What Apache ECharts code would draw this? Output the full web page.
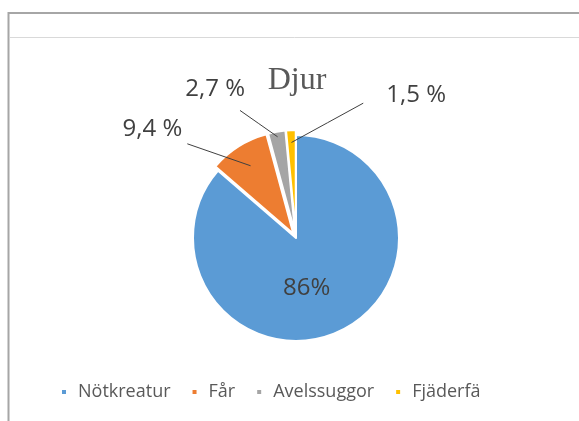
<!DOCTYPE html>
<html>
<head>
<meta charset="utf-8">
<script src="https://cdn.jsdelivr.net/npm/echarts@6/dist/echarts.min.js"></script>
<style>
  html, body { margin: 0; padding: 0; background: #fff; }
  #chart { width: 579px; height: 421px; }
</style>
</head>
<body>
<div id="chart"></div>
<script>
// Djurslag, andel i procent
const categories = ['Nötkreatur', 'Får', 'Avelssuggor', 'Fjäderfä'];
const shares = [86, 9.4, 2.7, 1.5];
const shareLabels = ['86%', '9,4 %', '2,7 %', '1,5 %'];
const sliceColors = ['#5b9bd5', '#ed7d31', '#a5a5a5', '#ffc000'];

// pie geometry
const pieCenter = [296, 238];
const pieRadius = 103;

// leader line settings per slice: radial length, horizontal length,
// how deep the line reaches into the slice (fraction of radius),
// and where it meets the label box
const lineLength = [0, 21, 43, 35];
const lineLength2 = [0, 40, 19, -102];
const lineDepth = [0, 0.78, 0.95, 0.88];
const lineLabelEnd = [null, 'rightBottom', 'rightBottomInner', 'leftSide'];

const chart = echarts.init(document.getElementById('chart'), null, { renderer: 'canvas' });

const data = categories.map((name, i) => ({
  name: name,
  value: shares[i],
  selected: i > 0,
  itemStyle: { color: sliceColors[i] },
  label: i === 0
    ? { position: 'inner', offset: [-12, 1] }
    : { position: 'outside' },
  labelLine: { show: i > 0, showAbove: true, length: lineLength[i], length2: lineLength2[i] }
}));

function leaderLine(params) {
  const i = params.dataIndex;
  if (i === 0) return {};
  const edge = params.labelLinePoints[0];
  const k = lineDepth[i];
  const inner = [
    pieCenter[0] + (edge[0] - pieCenter[0]) * k,
    pieCenter[1] + (edge[1] - pieCenter[1]) * k
  ];
  const r = params.labelRect;
  let outer;
  let align;
  if (lineLabelEnd[i] === 'rightBottom') {
    outer = [r.x + r.width + 5, r.y + r.height + 3];
  } else if (lineLabelEnd[i] === 'rightBottomInner') {
    outer = [r.x + r.width - 5, r.y + r.height + 9];
  } else {
    // label sits to the right of its anchor
    align = 'left';
    outer = [r.x + r.width - 23, r.y + r.height / 2 + 8];
  }
  const mid = [(inner[0] + outer[0]) / 2, (inner[1] + outer[1]) / 2];
  const out = { labelLinePoints: [outer, mid, inner] };
  if (align) out.align = align;
  return out;
}

chart.setOption({
  animation: false,
  backgroundColor: '#ffffff',
  title: {
    text: 'Djur',
    left: 292,
    top: 60,
    textAlign: 'center',
    textStyle: {
      fontFamily: 'Liberation Serif',
      fontWeight: 'normal',
      fontSize: 32,
      color: '#595959'
    }
  },
  legend: {
    left: 60,
    top: 383,
    padding: 0,
    itemWidth: 6,
    itemHeight: 6,
    itemGap: 20,
    icon: 'rect',
    textStyle: { fontFamily: 'Open Sans', fontSize: 18, color: '#595959', padding: [0, 0, 0, 6] },
    data: categories
  },
  graphic: [
    { type: 'line', shape: { x1: 8, y1: 13, x2: 579, y2: 13 }, style: { stroke: '#a6a6a6', lineWidth: 2 } },
    { type: 'line', shape: { x1: 8.5, y1: 12, x2: 8.5, y2: 421 }, style: { stroke: '#a6a6a6', lineWidth: 2 } },
    { type: 'line', shape: { x1: 10, y1: 37.5, x2: 579, y2: 37.5 }, style: { stroke: '#d9d9d9', lineWidth: 1 } }
  ],
  series: [{
    type: 'pie',
    center: pieCenter,
    radius: [0, pieRadius],
    startAngle: 90,
    clockwise: true,
    selectedMode: 'multiple',
    selectedOffset: 5,
    avoidLabelOverlap: false,
    itemStyle: { borderColor: '#ffffff', borderWidth: 2 },
    emphasis: { disabled: true },
    label: {
      fontFamily: 'Open Sans',
      fontSize: 24,
      color: '#404040',
      formatter: p => shareLabels[p.dataIndex]
    },
    labelLine: {
      showAbove: true,
      smooth: false,
      lineStyle: { color: '#404040', width: 1 }
    },
    labelLayout: leaderLine,
    data: data
  }]
});

// leader lines run into the slices, so keep them above the sectors
function raiseLeaderLines() {
  let changed = false;
  chart.getZr().storage.getDisplayList(true).forEach(el => {
    if (el.type === 'polyline' && el.z2 < 100) {
      el.z2 = 100;
      el.markRedraw();
      changed = true;
    }
  });
  if (changed) chart.getZr().refreshImmediately();
}
raiseLeaderLines();
chart.on('finished', raiseLeaderLines);
</script>
</body>
</html>
